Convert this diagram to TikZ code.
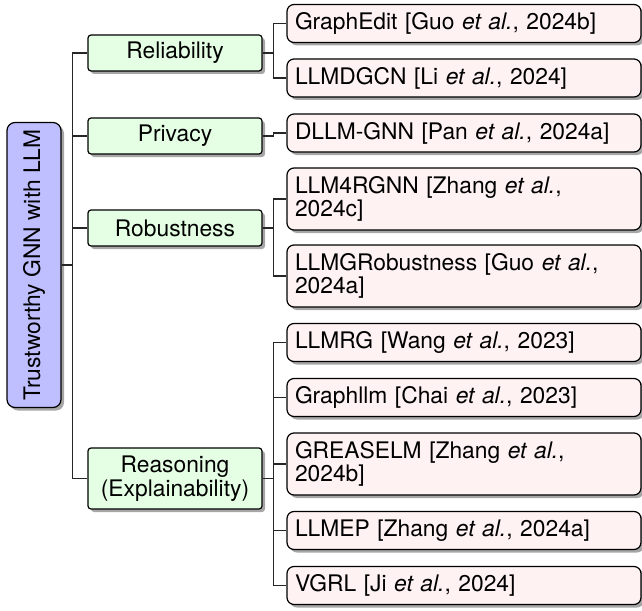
\documentclass[tikz,border=0pt]{standalone}
\usepackage{fontspec}
\setmainfont{TeX Gyre Heros}
\usepackage{tikz}
\usetikzlibrary{shadows}

\tikzset{
    boxshadow/.style={drop shadow={shadow xshift=1.5pt, shadow yshift=-1.5pt, fill=black!35, opacity=1}},
    rootbox/.style={draw=black, line width=0.6pt, fill=blue!25, rounded corners=4pt, boxshadow,
        minimum width=27pt, minimum height=142.5pt, inner sep=0pt},
    catbox/.style={draw=black, line width=0.6pt, fill=green!10, rounded corners=1.5pt, boxshadow,
        minimum width=87pt, minimum height=18pt, align=center, inner sep=2pt},
    leafbox/.style={draw=black, line width=0.6pt, fill=red!5, rounded corners=3.5pt, boxshadow,
        text width=169pt, minimum height=19pt, align=left, inner xsep=4pt, inner ysep=2pt},
    twoline/.style={minimum height=31pt},
    fork/.style={draw=black!85, line width=0.6pt}
}

\begin{document}
\begin{tikzpicture}[x=0.5pt, y=-0.5pt, font=\fontsize{11.4}{11.7}\selectfont]
            \useasboundingbox (0,0) rectangle (642,610);

            % Root
            \node[rootbox] (root) at (34,265) {\rotatebox{90}{Trustworthy GNN with LLM}};

            % Categories
            \node[catbox] (rel) at (175,53) {Reliability};
            \node[catbox] (priv) at (175,136) {Privacy};
            \node[catbox] (rob) at (175,228) {Robustness};
            \node[catbox, minimum height=30.5pt] (rea) at (175,478.5) {Reasoning\\(Explainability)};

            % Leaves
            \node[leafbox] (gedit) at (464,23.5) {GraphEdit [Guo \textit{et al.}, 2024b]};
            \node[leafbox] (dgcn) at (464,78) {LLMDGCN [Li \textit{et al.}, 2024]};
            \node[leafbox] (dllm) at (464,133) {DLLM-GNN [Pan \textit{et al.}, 2024a]};
            \node[leafbox, twoline] (rgnn) at (464,199) {LLM4RGNN [Zhang \textit{et al.},\\2024c]};
            \node[leafbox, twoline] (grob) at (464,276) {LLMGRobustness [Guo \textit{et al.},\\2024a]};
            \node[leafbox] (llmrg) at (464,342.5) {LLMRG [Wang \textit{et al.}, 2023]};
            \node[leafbox] (gllm) at (464,397.5) {Graphllm [Chai \textit{et al.}, 2023]};
            \node[leafbox, twoline] (grease) at (464,464) {GREASELM [Zhang \textit{et al.},\\2024b]};
            \node[leafbox] (llmep) at (464,530.5) {LLMEP [Zhang \textit{et al.}, 2024a]};
            \node[leafbox] (vgrl) at (464,585.5) {VGRL [Ji \textit{et al.}, 2024]};

            % Forked connectors
            \foreach \kid in {rel,priv,rob,rea}
                \draw[fork] (root.east) -- ++(5.5pt,0) |- (\kid.west);
            \foreach \kid in {gedit,dgcn}
                \draw[fork] (rel.east) -- ++(5.5pt,0) |- (\kid.west);
            \draw[fork] (priv.east) -- ++(5.5pt,0) |- (dllm.west);
            \foreach \kid in {rgnn,grob}
                \draw[fork] (rob.east) -- ++(5.5pt,0) |- (\kid.west);
            \foreach \kid in {llmrg,gllm,grease,llmep,vgrl}
                \draw[fork] (rea.east) -- ++(5.5pt,0) |- (\kid.west);
        \end{tikzpicture}
\end{document}
